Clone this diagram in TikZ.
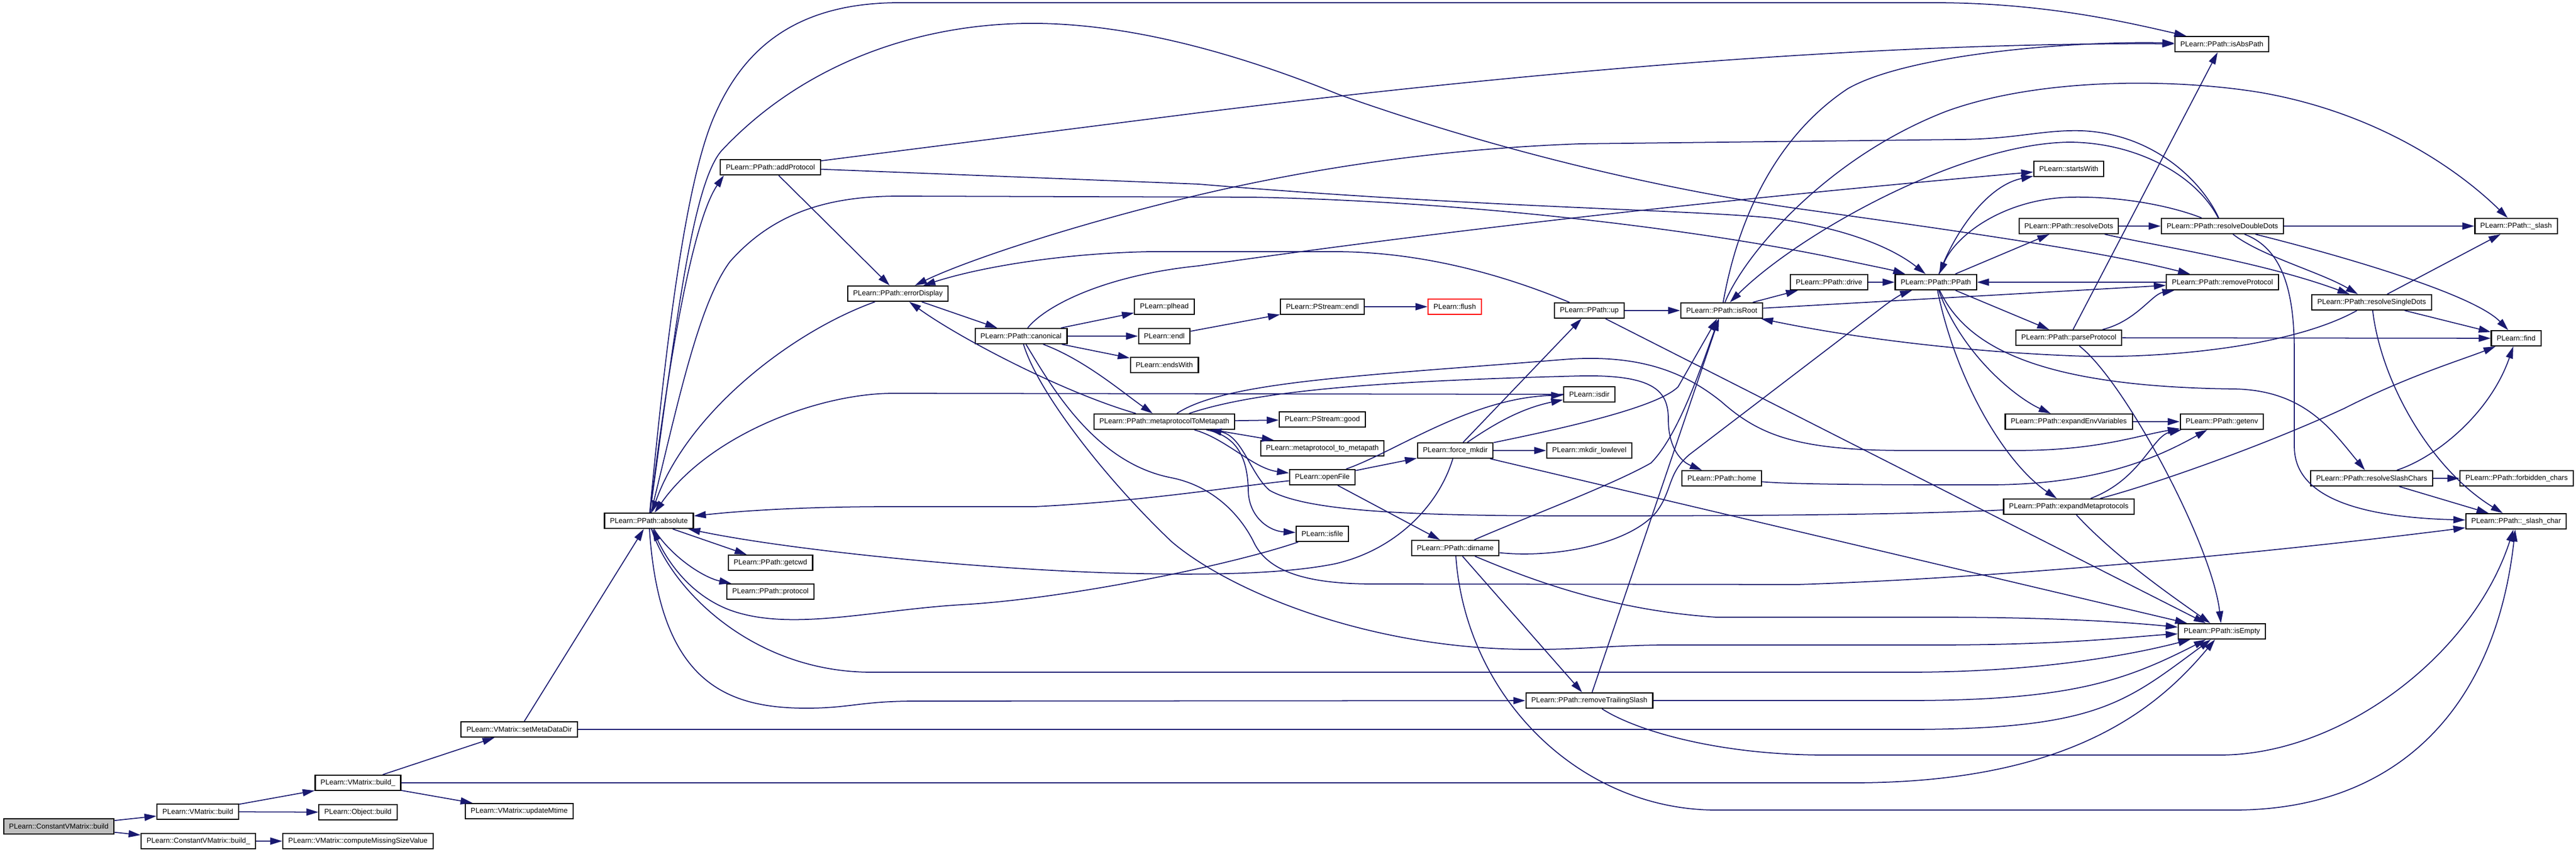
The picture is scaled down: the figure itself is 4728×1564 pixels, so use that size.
\documentclass[tikz,border=0pt]{standalone}
\usepackage{fontspec}
\setmainfont{Liberation Sans}
\usetikzlibrary{arrows.meta}
\definecolor{edgeblue}{RGB}{25,25,112}

\begin{document}
\begin{tikzpicture}[x=0.01cm,y=-0.01cm,>={Triangle[length=0.22cm,width=0.13cm]}]
    \tikzstyle{fn}=[rectangle,draw=black,fill=white,line width=0.6pt,inner xsep=0.1cm,inner ysep=0pt,minimum height=0.28cm,font=\fontsize{3.75}{4.5}\selectfont]
    \tikzstyle{callarrow}=[->,color=edgeblue,line width=0.5pt]
    \useasboundingbox (0,0) rectangle (4728,1564);

    % VMatrix side
    \node[fn, fill=gray!50] (cvbuild) at (108,1517) {PLearn::ConstantVMatrix::build};
    \node[fn] (vbuild) at (363,1490) {PLearn::VMatrix::build};
    \node[fn] (cvbuildu) at (364,1544) {PLearn::ConstantVMatrix::build\_};
    \node[fn] (vbuildu) at (657,1437) {PLearn::VMatrix::build\_};
    \node[fn] (objbuild) at (657,1491) {PLearn::Object::build};
    \node[fn] (missing) at (657,1544) {PLearn::VMatrix::computeMissingSizeValue};
    \node[fn] (metadir) at (953,1339) {PLearn::VMatrix::setMetaDataDir};
    \node[fn] (mtime) at (953,1489) {PLearn::VMatrix::updateMtime};

    % PPath side
    \node[fn] (absolute) at (1191,956) {PLearn::PPath::absolute};
    \node[fn] (addproto) at (1414,307) {PLearn::PPath::addProtocol};
    \node[fn] (getcwd) at (1414,1033) {PLearn::PPath::getcwd};
    \node[fn] (protocol) at (1414,1086) {PLearn::PPath::protocol};
    \node[fn] (errdisp) at (1648,539) {PLearn::PPath::errorDisplay};
    \node[fn] (canonical) at (1874,617) {PLearn::PPath::canonical};
    \node[fn] (plhead) at (2137,563) {PLearn::plhead};
    \node[fn] (endl) at (2137,617) {PLearn::endl};
    \node[fn] (endswith) at (2137,670) {PLearn::endsWith};
    \node[fn] (metatopath) at (2137,774) {PLearn::PPath::metaprotocolToMetapath};
    \node[fn] (psendl) at (2427,563) {PLearn::PStream::endl};
    \node[fn, draw=red] (flush) at (2670,563) {PLearn::flush};
    \node[fn] (psgood) at (2427,770) {PLearn::PStream::good};
    \node[fn] (mptompath) at (2427,823) {PLearn::metaprotocol\_to\_metapath};
    \node[fn] (openfile) at (2427,876) {PLearn::openFile};
    \node[fn] (isfile) at (2427,980) {PLearn::isfile};
    \node[fn] (forcemkdir) at (2671,827) {PLearn::force\_mkdir};
    \node[fn] (dirname) at (2671,1006) {PLearn::PPath::dirname};
    \node[fn] (up) at (2917,570) {PLearn::PPath::up};
    \node[fn] (isdir) at (2917,724) {PLearn::isdir};
    \node[fn] (mkdirll) at (2917,827) {PLearn::mkdir\_lowlevel};
    \node[fn] (rmslash) at (2917,1286) {PLearn::PPath::removeTrailingSlash};
    \node[fn] (isroot) at (3160,570) {PLearn::PPath::isRoot};
    \node[fn] (home) at (3160,878) {PLearn::PPath::home};
    \node[fn] (drive) at (3357,518) {PLearn::PPath::drive};
    \node[fn] (ppath) at (3553,518) {PLearn::PPath::PPath};
    \node[fn] (startswith) at (3797,310) {PLearn::startsWith};
    \node[fn] (rdots) at (3797,415) {PLearn::PPath::resolveDots};
    \node[fn] (parseproto) at (3797,620) {PLearn::PPath::parseProtocol};
    \node[fn] (expenv) at (3797,774) {PLearn::PPath::expandEnvVariables};
    \node[fn] (expmeta) at (3797,930) {PLearn::PPath::expandMetaprotocols};
    \node[fn] (isabs) at (4078,81) {PLearn::PPath::isAbsPath};
    \node[fn] (rddots) at (4079,415) {PLearn::PPath::resolveDoubleDots};
    \node[fn] (rmproto) at (4079,518) {PLearn::PPath::removeProtocol};
    \node[fn] (getenv) at (4078,774) {PLearn::PPath::getenv};
    \node[fn] (isempty) at (4078,1159) {PLearn::PPath::isEmpty};
    \node[fn] (rsdots) at (4353,555) {PLearn::PPath::resolveSingleDots};
    \node[fn] (rschars) at (4353,878) {PLearn::PPath::resolveSlashChars};
    \node[fn] (slash) at (4618,415) {PLearn::PPath::\_slash};
    \node[fn] (find) at (4618,621) {PLearn::find};
    \node[fn] (forbidden) at (4619,878) {PLearn::PPath::forbidden\_chars};
    \node[fn] (slashchar) at (4618,957) {PLearn::PPath::\_slash\_char};

    % edges
    \draw[callarrow] (cvbuild) -- (vbuild);
    \draw[callarrow] (cvbuild) -- (cvbuildu);
    \draw[callarrow] (vbuild) -- (vbuildu);
    \draw[callarrow] (vbuild) -- (objbuild);
    \draw[callarrow] (cvbuildu) -- (missing);
    \draw[callarrow] (vbuildu) -- (metadir);
    \draw[callarrow] (vbuildu) -- (mtime);
    \draw[callarrow] (vbuildu) -- (3400,1437) .. controls (3800,1437) and (3960,1300) .. (isempty);
    \draw[callarrow] (metadir) -- (absolute);
    \draw[callarrow] (metadir) -- (3500,1339) .. controls (3850,1339) and (3900,1290) .. (isempty);

    \draw[callarrow] (absolute) .. controls (1215,760) and (1262,420) .. (addproto.190);
    \draw[callarrow] (absolute) .. controls (1225,600) and (1260,330) .. (1311,213) .. controls (1360,100) and (1450,5) .. (1650,5) -- (3550,5) .. controls (3750,5) and (3900,40) .. (isabs);
    \draw[callarrow] (absolute) .. controls (1240,600) and (1270,340) .. (1324,277) .. controls (1480,110) and (1700,40) .. (1907,43) .. controls (2100,46) and (2300,110) .. (2456,173) .. controls (2700,260) and (3000,340) .. (3300,383) .. controls (3600,425) and (3850,460) .. (rmproto);
    \draw[callarrow] (absolute) .. controls (1240,760) and (1280,560) .. (1340,480) .. controls (1420,390) and (1520,360) .. (1650,360) -- (2300,362) .. controls (2700,370) and (3100,420) .. (3350,470) .. controls (3420,485) and (3470,495) .. (ppath.165);
    \draw[callarrow] (absolute) -- (getcwd);
    \draw[callarrow] (absolute) .. controls (1230,1020) and (1290,1060) .. (protocol);
    \draw[callarrow] (absolute) .. controls (1230,1080) and (1380,1234) .. (1600,1234) -- (3500,1234) .. controls (3750,1234) and (3920,1200) .. (isempty);
    \draw[callarrow] (absolute) .. controls (1210,1250) and (1330,1300) .. (1480,1300) .. controls (1560,1300) and (1580,1287) .. (1680,1287) -- (rmslash);

    \draw[callarrow] (addproto) -- (errdisp);
    \draw[callarrow] (addproto) -- (2200,207) .. controls (2900,120) and (3500,78) .. (isabs);
    \draw[callarrow] (addproto) -- (2200,338) .. controls (2700,380) and (3100,385) .. (3250,400) .. controls (3400,420) and (3480,460) .. (ppath);
    \draw[callarrow] (errdisp) .. controls (1450,610) and (1260,760) .. (absolute);
    \draw[callarrow] (errdisp) -- (canonical);

    \draw[callarrow] (canonical) -- (plhead);
    \draw[callarrow] (canonical) -- (endl);
    \draw[callarrow] (canonical) -- (endswith);
    \draw[callarrow] (canonical) .. controls (1990,660) and (2060,720) .. (metatopath);
    \draw[callarrow] (canonical) .. controls (1920,560) and (2030,505) .. (2200,488) .. controls (2500,445) and (3000,380) .. (startswith);
    \draw[callarrow] (canonical) .. controls (1905,720) and (2030,880) .. (2150,994) .. controls (2250,1080) and (2500,1190) .. (2800,1192) .. controls (2900,1193) and (2950,1185) .. (3050,1184) -- (3550,1184) .. controls (3800,1184) and (3920,1168) .. (isempty);
    \draw[callarrow] (canonical) .. controls (1930,710) and (2010,850) .. (2150,877) .. controls (2230,893) and (2280,950) .. (2303,999) .. controls (2330,1050) and (2400,1072) .. (2520,1072) -- (3300,1073) .. controls (3700,1060) and (4200,1010) .. (slashchar);
    \draw[callarrow] (endl) -- (psendl);
    \draw[callarrow] (psendl) -- (flush);

    \draw[callarrow] (metatopath) .. controls (1950,720) and (1760,620) .. (errdisp);
    \draw[callarrow] (metatopath) -- (psgood);
    \draw[callarrow] (metatopath) -- (mptompath);
    \draw[callarrow] (metatopath) .. controls (2250,805) and (2300,860) .. (openfile);
    \draw[callarrow] (metatopath) .. controls (2270,800) and (2290,840) .. (2291,900) .. controls (2292,950) and (2330,975) .. (isfile);
    \draw[callarrow] (metatopath) .. controls (2250,700) and (2500,690) .. (2869,660) .. controls (3020,648) and (3100,690) .. (3159,737) .. controls (3230,800) and (3300,827) .. (3500,827) -- (3700,827) .. controls (3850,827) and (3920,800) .. (getenv);
    \draw[callarrow] (metatopath) .. controls (2300,720) and (2500,700) .. (2904,690) .. controls (3040,688) and (3062,720) .. (3062,770) .. controls (3062,815) and (3080,845) .. (home);
    \draw[callarrow] (expmeta) .. controls (3500,945) and (3200,947) .. (2900,947) .. controls (2600,947) and (2400,940) .. (2330,900) .. controls (2295,870) and (2280,800) .. (metatopath);

    \draw[callarrow] (openfile) -- (forcemkdir);
    \draw[callarrow] (openfile) .. controls (2560,830) and (2700,730) .. (isdir);
    \draw[callarrow] (openfile) .. controls (2250,895) and (2100,920) .. (1900,930) -- (1640,930) .. controls (1450,930) and (1340,940) .. (absolute);
    \draw[callarrow] (openfile) -- (dirname);
    \draw[callarrow] (isfile) .. controls (2250,1040) and (1950,1100) .. (1765,1110) .. controls (1600,1120) and (1450,1160) .. (1340,1120) .. controls (1260,1090) and (1220,1020) .. (absolute);
    \draw[callarrow] (isdir) -- (1640,722) .. controls (1500,722) and (1300,800) .. (absolute);

    \draw[callarrow] (forcemkdir) -- (mkdirll);
    \draw[callarrow] (forcemkdir) .. controls (2740,780) and (2790,750) .. (isdir);
    \draw[callarrow] (forcemkdir) -- (up);
    \draw[callarrow] (forcemkdir) .. controls (2850,790) and (3040,750) .. (3080,710) -- (isroot);
    \draw[callarrow] (forcemkdir) .. controls (2640,930) and (2560,1010) .. (2450,1035) .. controls (2350,1055) and (2200,1056) .. (2050,1052) .. controls (1800,1045) and (1450,1010) .. (absolute);
    \draw[callarrow] (forcemkdir) -- (isempty);

    \draw[callarrow] (dirname) -- (rmslash);
    \draw[callarrow] (dirname) .. controls (2800,950) and (2960,890) .. (3030,850) .. controls (3080,800) and (3120,680) .. (isroot);
    \draw[callarrow] (dirname) .. controls (2850,1025) and (2990,1000) .. (3040,940) .. controls (3070,900) and (3060,870) .. (3100,835) -- (3460,560) .. controls (3480,545) and (3495,538) .. (ppath);
    \draw[callarrow] (dirname) .. controls (2800,1060) and (2950,1120) .. (3150,1133) -- (3550,1133) .. controls (3750,1133) and (3880,1140) .. (isempty);
    \draw[callarrow] (dirname) .. controls (2690,1280) and (2900,1487) .. (3150,1487) -- (4100,1487) .. controls (4400,1487) and (4580,1300) .. (slashchar);

    \draw[callarrow] (rmslash) -- (isroot);
    \draw[callarrow] (rmslash) -- (3500,1286) .. controls (3800,1286) and (3900,1250) .. (isempty);
    \draw[callarrow] (rmslash) .. controls (3000,1340) and (3150,1386) .. (3350,1386) -- (4074,1386) .. controls (4300,1386) and (4540,1200) .. (slashchar);

    \draw[callarrow] (up) -- (isroot);
    \draw[callarrow] (up) .. controls (2820,530) and (2650,462) .. (2450,462) -- (2110,462) .. controls (1950,465) and (1800,490) .. (errdisp);
    \draw[callarrow] (up) -- (isempty);

    \draw[callarrow] (isroot) .. controls (3190,400) and (3260,250) .. (3391,163) .. controls (3500,100) and (3800,75) .. (isabs);
    \draw[callarrow] (isroot) -- (drive);
    \draw[callarrow] (isroot) -- (rmproto);
    \draw[callarrow] (isroot) .. controls (3200,470) and (3350,290) .. (3573,204) .. controls (3750,140) and (4000,145) .. (4150,170) .. controls (4350,205) and (4500,300) .. (slash);
    \draw[callarrow] (drive) -- (ppath);

    \draw[callarrow] (ppath) -- (rdots);
    \draw[callarrow] (ppath) .. controls (3590,420) and (3650,340) .. (startswith);
    \draw[callarrow] (ppath) -- (parseproto);
    \draw[callarrow] (ppath) .. controls (3600,650) and (3700,730) .. (expenv);
    \draw[callarrow] (ppath) .. controls (3590,700) and (3680,850) .. (expmeta);
    \draw[callarrow] (ppath) .. controls (3610,640) and (3750,710) .. (4100,714) .. controls (4230,716) and (4280,790) .. (rschars);
    \draw[callarrow] (rmproto) -- (ppath);

    \draw[callarrow] (rdots) -- (rddots);
    \draw[callarrow] (rdots) .. controls (3950,450) and (4150,480) .. (rsdots);
    \draw[callarrow] (rddots) .. controls (4030,320) and (3920,262) .. (3800,261) .. controls (3600,262) and (3300,430) .. (isroot);
    \draw[callarrow] (rddots) .. controls (4040,330) and (3950,245) .. (3820,240) .. controls (3750,238) and (3700,255) .. (3600,256) -- (2900,264) .. controls (2600,275) and (2350,320) .. (2150,370) .. controls (1950,420) and (1770,480) .. (errdisp);
    \draw[callarrow] (rddots) .. controls (3990,380) and (3900,360) .. (3800,362) .. controls (3680,365) and (3590,430) .. (ppath);
    \draw[callarrow] (rddots) -- (slash);
    \draw[callarrow] (rddots) .. controls (4150,470) and (4260,500) .. (rsdots);
    \draw[callarrow] (rddots) .. controls (4300,470) and (4540,540) .. (find);
    \draw[callarrow] (rddots) .. controls (4200,460) and (4211,560) .. (4211,650) -- (4211,820) .. controls (4211,920) and (4350,950) .. (slashchar);

    \draw[callarrow] (parseproto) .. controls (3920,590) and (3950,540) .. (rmproto);
    \draw[callarrow] (parseproto) -- (isabs);
    \draw[callarrow] (parseproto) -- (find);
    \draw[callarrow] (parseproto) .. controls (3900,700) and (4060,1000) .. (isempty);

    \draw[callarrow] (rsdots) -- (slash);
    \draw[callarrow] (rsdots) -- (find);
    \draw[callarrow] (rsdots) .. controls (4200,640) and (3950,660) .. (3800,653) .. controls (3600,645) and (3400,620) .. (isroot);
    \draw[callarrow] (rsdots) .. controls (4370,700) and (4460,860) .. (slashchar);

    \draw[callarrow] (expenv) -- (getenv);
    \draw[callarrow] (expmeta) .. controls (3930,880) and (3950,800) .. (getenv);
    \draw[callarrow] (expmeta) .. controls (3880,1020) and (3980,1090) .. (isempty);
    \draw[callarrow] (expmeta) .. controls (3950,890) and (4150,820) .. (4302,750) .. controls (4420,690) and (4520,660) .. (find);
    \draw[callarrow] (home) .. controls (3300,890) and (3500,890) .. (3650,890) .. controls (3850,890) and (3960,840) .. (getenv);

    \draw[callarrow] (rschars) -- (forbidden);
    \draw[callarrow] (rschars) -- (slashchar);
    \draw[callarrow] (rschars) .. controls (4470,840) and (4570,760) .. (find);

\end{tikzpicture}
\end{document}
